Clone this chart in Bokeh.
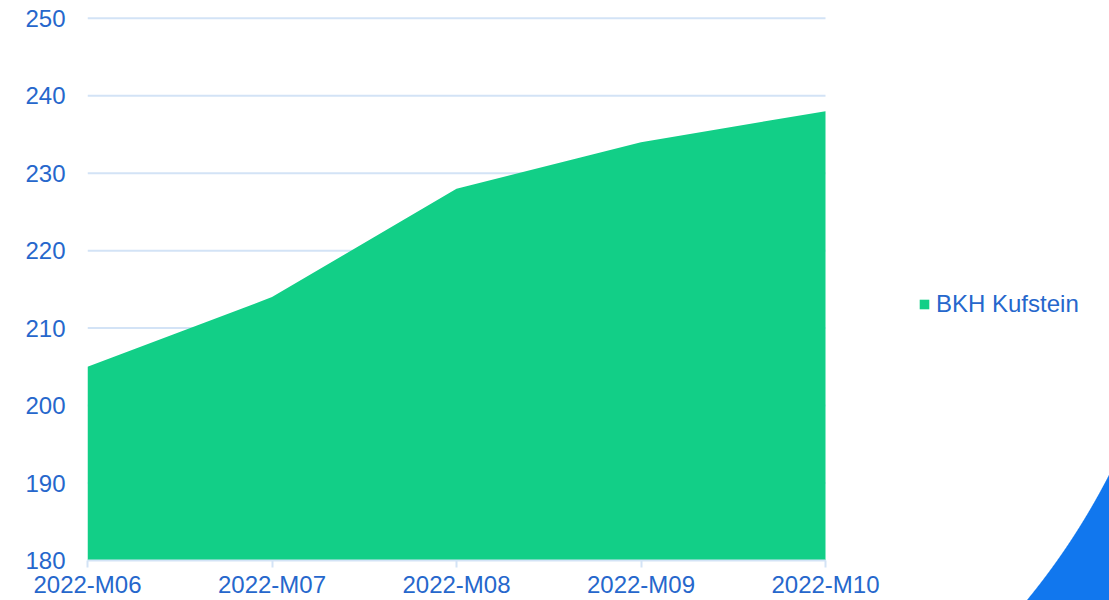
from bokeh.plotting import figure
from bokeh.models import Legend, LegendItem, ColumnDataSource, FixedTicker
from bokeh.embed import file_html
from bokeh.resources import INLINE

months = ["2022-M06", "2022-M07", "2022-M08", "2022-M09", "2022-M10"]
values = [205, 214, 228, 234, 238]
series_name = "BKH Kufstein"
y_ticks = [180, 190, 200, 210, 220, 230, 240, 250]

FONT = "Liberation Sans"
TEXT = "#2667cc"
GRID = "#d3e3f6"
GREEN = "#12cf87"
DECO = "#1177ee"

W, H = 1109, 600
last = len(months) - 1
# the frame extends to the right edge so that the legend can sit beside the area
x_end = last * (W - 87) / (825 - 87)
p = figure(width=W, height=H, x_range=(0, x_end), y_range=(180, 251),
           output_backend="svg", toolbar_location=None,
           min_border_left=87, min_border_right=0, min_border_top=10, min_border_bottom=40)
p.outline_line_color = None
p.background_fill_color = None
p.border_fill_color = None
# decorative blue corner of the page background (white disc over blue)
p.styles = {"background": "radial-gradient(circle 704px at 483px 154px, #ffffff 99.85%, " + DECO + " 100%)"}

n = len(y_ticks)
p.segment(x0=[0] * n, x1=[last] * n, y0=y_ticks, y1=y_ticks, line_color=GRID, line_width=2)

src = ColumnDataSource(dict(x=list(range(len(months))), y=values, y0=[180] * len(values)))
r = p.varea(x="x", y1="y0", y2="y", source=src, fill_color=GREEN)

p.xgrid.grid_line_color = None
p.ygrid.grid_line_color = None

p.yaxis.ticker = FixedTicker(ticks=y_ticks)
p.yaxis.axis_line_color = None
p.yaxis.major_tick_line_color = None
p.yaxis.minor_tick_line_color = None
p.yaxis.major_tick_out = 0
p.yaxis.major_label_standoff = 22

p.xaxis.ticker = FixedTicker(ticks=list(range(len(months))))
p.xaxis.major_label_overrides = {i: m for i, m in enumerate(months)}
p.xaxis.bounds = (0, last)
p.xaxis.axis_line_color = GRID
p.xaxis.axis_line_width = 2
p.xaxis.major_tick_line_color = GRID
p.xaxis.major_tick_line_width = 2
p.xaxis.major_tick_out = 7
p.xaxis.major_tick_in = 0
p.xaxis.minor_tick_line_color = None
p.xaxis.major_label_standoff = 3

for ax in (p.xaxis[0], p.yaxis[0]):
    ax.major_label_text_font = FONT
    ax.major_label_text_font_size = "24px"
    ax.major_label_text_color = TEXT

legend = Legend(items=[LegendItem(label=series_name, renderers=[r])], location=(831, 242))
legend.label_text_font = FONT
legend.label_text_font_size = "24px"
legend.label_text_color = TEXT
legend.glyph_width = 12
legend.glyph_height = 12
legend.label_standoff = 6
legend.padding = 0
legend.margin = 0
legend.border_line_color = None
legend.background_fill_alpha = 0
p.add_layout(legend, "center")

open("out.html", "w").write(file_html(p, INLINE))
